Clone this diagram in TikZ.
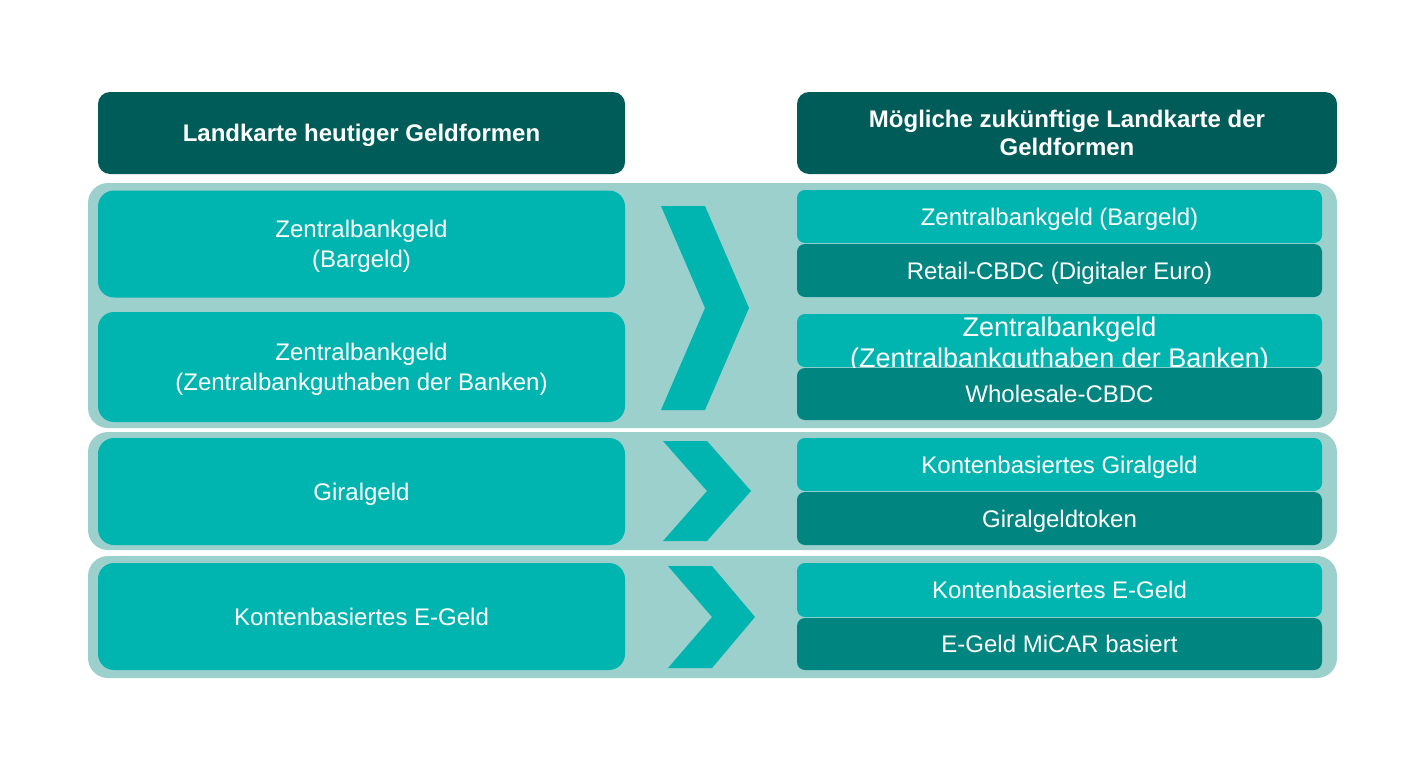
\documentclass[tikz,border=0pt]{standalone}
\usepackage{fontspec}
\setmainfont{Liberation Sans}
\definecolor{hdrc}{RGB}{0,92,88}
\definecolor{tealc}{RGB}{0,181,176}
\definecolor{darkc}{RGB}{0,133,128}
\definecolor{bgc}{RGB}{155,208,205}
\tikzset{
  px/.style={x=0.5pt,y=-0.5pt},
  hdr/.style={fill=hdrc,rounded corners=6pt,text=white,font=\bfseries\fontsize{12}{14}\selectfont,align=center,inner sep=0pt,text depth=0pt},
  grp/.style={fill=bgc,rounded corners=10pt,inner sep=0pt},
  lbox/.style={fill=tealc,rounded corners=8pt,text=white,font=\fontsize{12}{15}\selectfont,align=center,inner sep=0pt,minimum width=263.5pt,text depth=0pt},
  rlight/.style={fill=tealc,rounded corners=4pt,text=white,font=\fontsize{12}{15}\selectfont,align=center,inner sep=0pt,minimum width=262.5pt,text depth=0pt},
  rdark/.style={rlight,fill=darkc},
  chev/.style={fill=tealc}
}
\begin{document}
\begin{tikzpicture}[px]
\useasboundingbox (0,0) rectangle (1424,771);
% headers
\node[hdr,minimum width=263.5pt,minimum height=41pt] (hl) at (361.5,133) {Landkarte heutiger Geldformen};
\node[hdr,minimum width=270pt,minimum height=41pt] (hr) at (1067,133) {Mögliche zukünftige Landkarte der\\Geldformen};
% group backgrounds
\node[grp,minimum width=624.5pt,minimum height=122.5pt] (g1) at (712.5,305.5) {};
\node[grp,minimum width=624.5pt,minimum height=59pt] (g2) at (712.5,491) {};
\node[grp,minimum width=624.5pt,minimum height=61pt] (g3) at (712.5,617) {};
% left boxes
\node[lbox,minimum height=53.5pt] (l1) at (361.5,244) {Zentralbankgeld\\(Bargeld)};
\node[lbox,minimum height=55pt] (l2) at (361.5,367) {Zentralbankgeld\\(Zentralbankguthaben der Banken)};
\node[lbox,minimum height=53.5pt] (l3) at (361.5,491.5) {Giralgeld};
\node[lbox,minimum height=53.5pt] (l4) at (361.5,616.5) {Kontenbasiertes E-Geld};
% chevrons
\fill[chev] (661,206) -- (705,206) -- (749,308) -- (705,410) -- (661,410) -- (705,308) -- cycle;
\fill[chev] (663,441) -- (707,441) -- (751,491) -- (707,541) -- (663,541) -- (707,491) -- cycle;
\fill[chev] (668,566) -- (712,566) -- (755,617) -- (712,668) -- (668,668) -- (712,617) -- cycle;
% right boxes
\node[rlight,minimum height=26.5pt] (r1) at (1059.5,216.5) {Zentralbankgeld (Bargeld)};
\node[rdark,minimum height=26.5pt] (r2) at (1059.5,270.5) {Retail-CBDC (Digitaler Euro)};
\node[rlight,minimum height=26.5pt] (r3) at (1059.5,340.5) {};
\node[text=white,font=\fontsize{13.5}{15.5}\selectfont,align=center,inner sep=0pt,text depth=0pt] (r3t) at (1059.5,342.5) {Zentralbankgeld\\(Zentralbankguthaben der Banken)};
\node[rdark,minimum height=26pt] (r4) at (1059.5,394) {Wholesale-CBDC};
\node[rlight,minimum height=26.5pt] (r5) at (1059.5,464.5) {Kontenbasiertes Giralgeld};
\node[rdark,minimum height=26.5pt] (r6) at (1059.5,518.5) {Giralgeldtoken};
\node[rlight,minimum height=27pt] (r7) at (1059.5,590) {Kontenbasiertes E-Geld};
\node[rdark,minimum height=26pt] (r8) at (1059.5,644) {E-Geld MiCAR basiert};
\end{tikzpicture}
\end{document}
